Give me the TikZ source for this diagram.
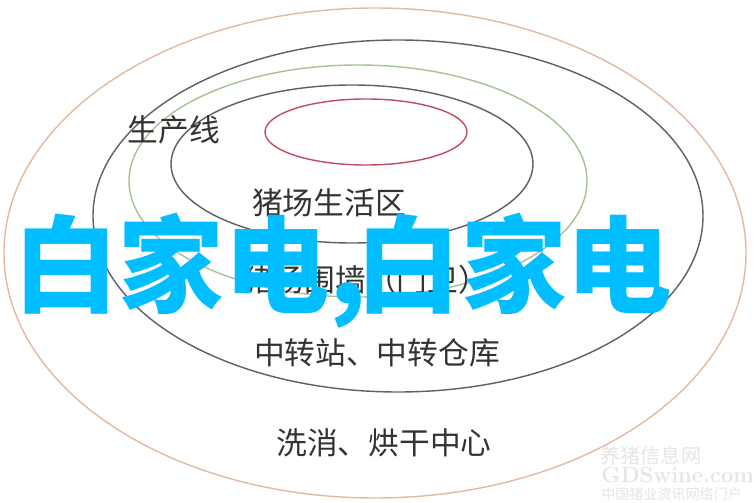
\documentclass[tikz,border=0pt]{standalone}
\usepackage{fontspec}
\newfontfamily\cjk{Noto Sans CJK SC}
\definecolor{ringtan}{RGB}{228,185,160}
\definecolor{ringgray}{RGB}{95,95,105}
\definecolor{ringgreen}{RGB}{165,195,150}
\definecolor{ringred}{RGB}{195,75,95}
\definecolor{wordcyan}{RGB}{0,190,255}
\tikzset{
    ring/.style={line width=0.8pt},
    ringlabel/.style={inner sep=0pt, text=black!80, font=\cjk\fontsize{17.5}{18}\selectfont},
    bigword/.style={inner sep=0pt, anchor=base west, text=wordcyan, font=\cjk\bfseries\fontsize{60}{60}\selectfont},
    markword/.style={inner sep=0pt, anchor=west, text=black!10}
}

\begin{document}
\begin{tikzpicture}[x=0.02cm, y=-0.02cm]
        \useasboundingbox[fill=white] (0, 0) rectangle (755, 503);
        %draw the nested rings
        \draw[ring, ringtan] (375, 253) ellipse [x radius=371, y radius=245];
        \draw[ring, ringgray] (398, 216) ellipse [x radius=305, y radius=176];
        \draw[ring, ringgreen] (358, 181) ellipse [x radius=229, y radius=116];
        \draw[ring, ringgray] (352, 164) ellipse [x radius=181, y radius=79];
        \draw[ring, ringred] (366, 132) ellipse [x radius=101, y radius=33];
        %label the rings
        \node[ringlabel] (line) at (174, 130) {生产线};
        \node[ringlabel] (life) at (329, 203) {猪场生活区};
        \node[ringlabel] (wall) at (366, 280) {猪场围墙（门卫）};
        \node[ringlabel] (transfer) at (377, 353) {中转站、中转仓库};
        \node[ringlabel] (wash) at (384, 443) {洗消、烘干中心};
        %watermark
        \node[markword, font=\cjk\fontsize{11.5}{12}\selectfont] (markname) at (600, 456) {养猪信息网};
        \node[markword, font=\rmfamily\bfseries\fontsize{12.5}{13}\selectfont] (markurl) at (601, 475) {GDSwine.com};
        \node[markword, font=\cjk\fontsize{8}{8}\selectfont] (markline) at (601, 494) {中国猪业资讯网络门户};
        %big overlay words
        \node[bigword] (words) at (13, 305) {白家电,\kern-0.22cm 白家电};
    \end{tikzpicture}
\end{document}
